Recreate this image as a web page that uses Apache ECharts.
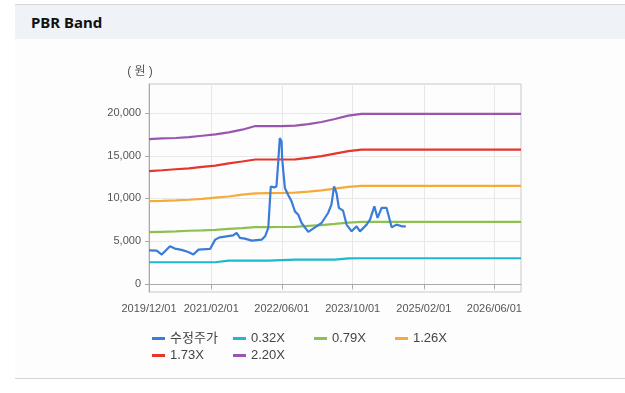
<!DOCTYPE html>
<html><head><meta charset="utf-8">
<script src="https://cdn.jsdelivr.net/npm/echarts@6/dist/echarts.min.js"></script>
<style>
html,body{margin:0;padding:0;width:625px;height:393px;background:#fff;overflow:hidden;}
#topline{position:absolute;left:15px;top:4px;width:610px;height:1px;background:#d6d6d6;}
#band{position:absolute;left:15px;top:5px;width:610px;height:34px;background:#eff2f7;}
#band span{position:absolute;left:16px;top:0;line-height:34px;font-weight:bold;font-size:15px;font-family:'Noto Sans',sans-serif;color:#111;}
#panel{position:absolute;left:15px;top:39px;width:610px;height:339px;background:#fdfdfd;}
#bottomline{position:absolute;left:15px;top:378px;width:610px;height:1px;background:#d6d6d6;}
#chart{position:absolute;left:0;top:0;width:625px;height:393px;}
</style></head>
<body>
<div id="topline"></div>
<div id="band"><span>PBR Band</span></div>
<div id="panel"></div>
<div id="bottomline"></div>
<div id="chart"></div>
<script>
// ---- data ----
const xTickDates = ['2019/12/01','2021/02/01','2022/06/01','2023/10/01','2025/02/01','2026/06/01'];
const yTicks = [0, 5000, 10000, 15000, 20000];
const seriesNames = ['수정주가','0.32X','0.79X','1.26X','1.73X','2.20X'];

const bandDates = ['2019/12/01','2020/03/01','2020/06/01','2020/09/01','2020/12/01','2021/03/01','2021/06/01','2021/09/01','2021/12/01','2022/03/01','2022/06/01','2022/09/01','2022/12/01','2023/03/01','2023/06/01','2023/09/01','2023/12/01','2026/12/01'];
const band032 = [2530,2530,2530,2530,2530,2530,2720,2720,2720,2720,2790,2850,2850,2850,2850,2990,3000,3000];
const band079 = [6050,6100,6150,6220,6260,6330,6430,6520,6640,6650,6660,6680,6780,6880,7020,7180,7250,7250];
const band126 = [9680,9720,9780,9850,9950,10100,10230,10450,10600,10620,10640,10680,10800,10950,11150,11350,11470,11470];
const band173 = [13200,13300,13420,13520,13700,13850,14100,14330,14560,14560,14560,14570,14750,14950,15250,15550,15720,15720];
const band220 = [16950,17030,17080,17170,17340,17500,17740,18050,18480,18480,18480,18520,18700,18950,19300,19700,19900,19900];

const priceDates = ['2019/12/01','2020/01/23','2020/02/27','2020/04/23','2020/05/27','2020/07/12','2020/08/27','2020/10/01','2020/11/05','2021/01/24','2021/02/28','2021/04/01','2021/05/17','2021/07/01','2021/07/25','2021/08/17','2021/09/20','2021/11/06','2022/01/14','2022/02/06','2022/02/28','2022/03/17','2022/04/09','2022/04/25','2022/05/06','2022/05/18','2022/05/30','2022/06/03','2022/06/10','2022/06/22','2022/07/14','2022/08/07','2022/08/30','2022/09/22','2022/10/15','2022/11/30','2023/01/15','2023/03/01','2023/04/15','2023/05/08','2023/05/26','2023/06/12','2023/06/28','2023/07/27','2023/08/20','2023/09/24','2023/10/28','2023/11/20','2024/01/05','2024/01/28','2024/02/27','2024/03/20','2024/04/17','2024/05/21','2024/06/25','2024/07/28','2024/09/02','2024/09/30'];
const priceValues = [3930,3900,3430,4400,4130,3980,3740,3430,4010,4090,5180,5450,5570,5680,5960,5380,5300,5060,5180,5570,6550,11400,11300,11400,13950,17080,16680,14740,13370,11230,10440,9660,8490,8100,7130,6080,6620,7130,8300,9280,11420,10640,8890,8570,6940,6150,6740,6150,6940,7520,9080,7720,8890,8890,6620,6940,6740,6740];

const colors = ['#3a7dd8','#1fb8cc','#8cc152','#f6aa3a','#e5352c','#9c55ae'];
// ---------------

function toTs(s){const p=s.split('/').map(Number);return Date.UTC(p[0],p[1]-1,p[2]);}
function fmtDate(v){const d=new Date(v);const m=d.getUTCMonth()+1,dd=d.getUTCDate();return d.getUTCFullYear()+'/'+(m<10?'0':'')+m+'/'+(dd<10?'0':'')+dd;}
function pairs(dates, vals){return dates.map((d,i)=>[toTs(d), vals[i]]);}

const xTicks = xTickDates.map(toTs);
const FONT = "'Liberation Sans','Noto Sans CJK KR',sans-serif";

const bands = [band032, band079, band126, band173, band220];
const series = [];
bands.forEach((b,i)=>{
  series.push({name: seriesNames[i+1], type:'line', data: pairs(bandDates,b), symbol:'none',
    lineStyle:{width:2.2, color: colors[i+1]}, itemStyle:{color: colors[i+1]}, z:2, animation:false});
});
series.push({name: seriesNames[0], type:'line', data: pairs(priceDates, priceValues), symbol:'none',
  lineStyle:{width:2.2, color: colors[0]}, itemStyle:{color: colors[0]}, z:5, animation:false});

const chart = echarts.init(document.getElementById('chart'), null, {renderer:'canvas'});
chart.setOption({
  backgroundColor:'transparent',
  animation:false,
  grid:{left:149, right:104, top:84, bottom:101, show:true, borderColor:'#c8c8c8', borderWidth:1, backgroundColor:'transparent', containLabel:false},
  legend:{data: seriesNames, left:152, top:330, width:330, padding:0, itemGap:0, itemWidth:13, itemHeight:3, icon:'rect',
    textStyle:{fontSize:13, color:'#444', fontFamily:FONT, width:63, lineHeight:17}},
  xAxis:{type:'value', min: toTs('2019/12/01'), max: toTs('2026/12/01'),
    axisLine:{show:true, lineStyle:{color:'#aaa'}},
    axisTick:{show:true, customValues: xTicks, length:5, lineStyle:{color:'#aaa'}},
    axisLabel:{customValues: xTicks, formatter: fmtDate, color:'#555', fontSize:11, margin:11, fontFamily:FONT, hideOverlap:false},
    splitLine:{show:true, lineStyle:{color:'#e8e8e8'}}},
  yAxis:{type:'value', min:-950, max:23400, name:'( 원 )', nameLocation:'end', nameGap:6,
    nameTextStyle:{color:'#555', fontSize:12, fontFamily:FONT, align:'center', padding:[0,18,0,0]},
    axisLine:{show:true, lineStyle:{color:'#aaa'}},
    axisTick:{show:true, customValues: yTicks, length:4, lineStyle:{color:'#aaa'}},
    axisLabel:{customValues: yTicks, formatter: v=>v.toLocaleString('en-US'), color:'#555', fontSize:11, margin:8, fontFamily:FONT},
    splitLine:{show:true, lineStyle:{color:'#e8e8e8'}}},
  series: series
});
</script>
</body></html>
